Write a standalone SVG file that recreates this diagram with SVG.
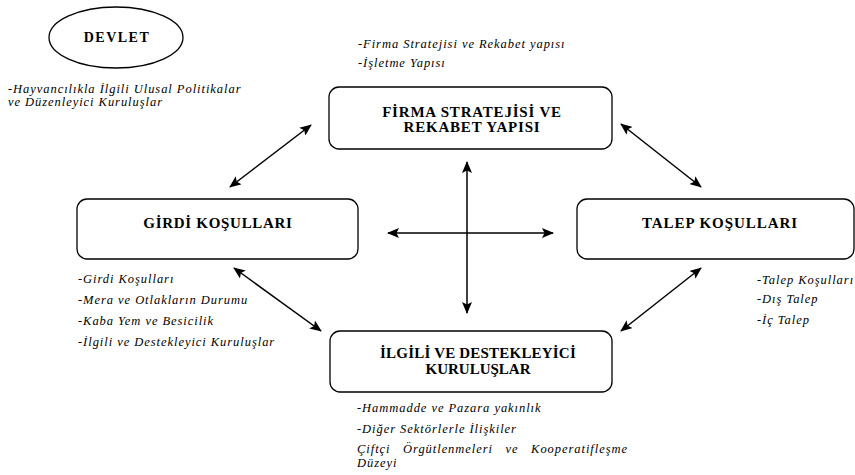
<svg xmlns="http://www.w3.org/2000/svg" width="855" height="475" viewBox="0 0 855 475">
  <defs>
    <marker id="head" viewBox="0 0 12 10" refX="11" refY="5" markerWidth="12" markerHeight="10" markerUnits="userSpaceOnUse" orient="auto-start-reverse">
      <path d="M0,0 L12,5 L0,10 L2.5,5 Z" fill="#000"/>
    </marker>
  </defs>
  <style>
    .box { fill: #fff; stroke: #000; stroke-width: 1.3; }
    .title { font-weight: bold; font-size: 15px; text-anchor: middle; letter-spacing: 0.8px; fill: #000; }
    .note { font-style: italic; font-size: 12.5px; letter-spacing: 0.95px; fill: #000; }
    .link { stroke: #000; stroke-width: 1.5; fill: none; marker-start: url(#head); marker-end: url(#head); }
  </style>
  <rect width="855" height="475" fill="#fff"/>

  <!-- State -->
  <g id="devlet" font-family="Liberation Serif">
    <ellipse class="box" cx="116" cy="37.5" rx="67" ry="30.5"/>
    <text class="title" x="117" y="42" font-family="Liberation Serif" style="font-size:14px;letter-spacing:1.5px">DEVLET</text>
    <text class="note" x="8" y="93" font-family="Liberation Serif">-Hayvancılıkla İlgili Ulusal Politikalar</text>
    <text class="note" x="8" y="106" font-family="Liberation Serif">ve Düzenleyici Kuruluşlar</text>
  </g>

  <!-- Firm strategy and rivalry -->
  <g id="firma" font-family="Liberation Serif">
    <text class="note" x="358" y="48" font-family="Liberation Serif">-Firma Stratejisi ve Rekabet yapısı</text>
    <text class="note" x="358" y="67" font-family="Liberation Serif">-İşletme Yapısı</text>
    <rect class="box" x="329" y="87" width="283" height="62" rx="10"/>
    <text class="title" x="472" y="117" font-family="Liberation Serif">FİRMA STRATEJİSİ VE</text>
    <text class="title" x="472" y="132" font-family="Liberation Serif">REKABET YAPISI</text>
  </g>

  <!-- Factor conditions -->
  <g id="girdi" font-family="Liberation Serif">
    <rect class="box" x="77" y="199" width="281" height="60" rx="10"/>
    <text class="title" x="218" y="228" font-family="Liberation Serif" style="letter-spacing:0.7px">GİRDİ KOŞULLARI</text>
    <text class="note" x="78" y="283" font-family="Liberation Serif">-Girdi Koşulları</text>
    <text class="note" x="78" y="304" font-family="Liberation Serif">-Mera ve Otlakların Durumu</text>
    <text class="note" x="78" y="325" font-family="Liberation Serif">-Kaba Yem ve Besicilik</text>
    <text class="note" x="78" y="346" font-family="Liberation Serif">-İlgili ve Destekleyici Kuruluşlar</text>
  </g>

  <!-- Demand conditions -->
  <g id="talep" font-family="Liberation Serif">
    <rect class="box" x="577" y="199" width="277" height="60" rx="10"/>
    <text class="title" x="720" y="228" font-family="Liberation Serif" style="letter-spacing:0.95px">TALEP KOŞULLARI</text>
    <text class="note" x="757" y="284" font-family="Liberation Serif">-Talep Koşulları</text>
    <text class="note" x="757" y="303" font-family="Liberation Serif">-Dış Talep</text>
    <text class="note" x="757" y="324" font-family="Liberation Serif">-İç Talep</text>
  </g>

  <!-- Related and supporting industries -->
  <g id="ilgili" font-family="Liberation Serif">
    <rect class="box" x="330" y="331" width="282" height="61" rx="10"/>
    <text class="title" x="478" y="358" font-family="Liberation Serif" style="letter-spacing:0.2px">İLGİLİ VE DESTEKLEYİCİ</text>
    <text class="title" x="478" y="374" font-family="Liberation Serif" style="letter-spacing:0px">KURULUŞLAR</text>
    <text class="note" x="357" y="412" font-family="Liberation Serif">-Hammadde ve Pazara yakınlık</text>
    <text class="note" x="357" y="433" font-family="Liberation Serif">-Diğer Sektörlerle İlişkiler</text>
    <text class="note" x="357" y="453" font-family="Liberation Serif" word-spacing="8.5">Çiftçi Örgütlenmeleri ve Kooperatifleşme</text>
    <text class="note" x="357" y="467" font-family="Liberation Serif">Düzeyi</text>
  </g>

  <!-- Connectors -->
  <g id="connectors">
    <line class="link" x1="311" y1="125" x2="230" y2="187"/>
    <line class="link" x1="621" y1="124" x2="701" y2="187"/>
    <line class="link" x1="234" y1="268" x2="321" y2="331"/>
    <line class="link" x1="701" y1="268" x2="621" y2="331"/>
    <line class="link" x1="388" y1="233" x2="553" y2="233"/>
    <line class="link" x1="467" y1="162" x2="467" y2="313"/>
  </g>
</svg>
